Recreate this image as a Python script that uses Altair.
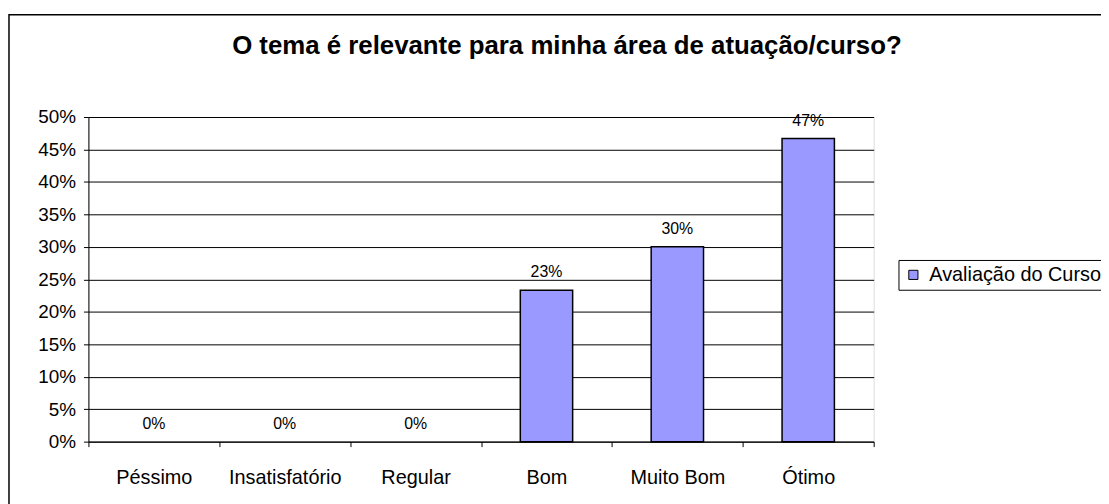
import altair as alt
import pandas as pd

categorias = ["Péssimo", "Insatisfatório", "Regular", "Bom", "Muito Bom", "Ótimo"]
valores = [0.0, 0.0, 0.0, 0.233, 0.30, 0.467]
serie = "Avaliação do Curso"
titulo = "O tema é relevante para minha área de atuação/curso?"
ticks_y = [0, 0.05, 0.10, 0.15, 0.20, 0.25, 0.30, 0.35, 0.40, 0.45, 0.50]

df = pd.DataFrame({"categoria": categorias, "valor": valores, "serie": [serie] * len(categorias)})

FONT = "Liberation Sans"

x = alt.X(
    "categoria:N",
    sort=categorias,
    scale=alt.Scale(paddingInner=0, paddingOuter=0),
    axis=alt.Axis(
        title=None, labelAngle=0, tickBand="extent", domainColor="black",
        tickColor="black", tickSize=5, labelFontSize=20, labelFont=FONT,
        labelColor="black", labelPadding=21, grid=False, domainWidth=1,
    ),
)
y = alt.Y(
    "valor:Q",
    scale=alt.Scale(domain=[0, 0.5]),
    axis=alt.Axis(
        title=None, values=ticks_y, format=".0%", grid=True, gridColor="black",
        gridOpacity=1, gridWidth=1, domainColor="black", tickColor="black",
        tickSize=5, labelFontSize=19, labelFont=FONT, labelColor="black",
        labelPadding=8,
    ),
)

bars = alt.Chart(df).transform_filter("datum.valor > 0").mark_bar(
    width=alt.RelativeBandSize(0.4), stroke="black", strokeWidth=1.5
).encode(
    x=x,
    y=y,
    color=alt.Color(
        "serie:N",
        scale=alt.Scale(range=["#9999FF"]),
        legend=alt.Legend(
            title=None, orient="none", legendX=816, legendY=144,
            strokeColor="black", fillColor="white", padding=5,
            symbolType="square", symbolSize=85, symbolStrokeColor="black",
            symbolStrokeWidth=1, labelFontSize=20, labelFont=FONT,
            labelColor="black", labelOffset=6, labelLimit=0,
        ),
    ),
)

labels = alt.Chart(df).mark_text(
    dy=-18, fontSize=16, font=FONT, color="black", baseline="middle"
).encode(x=x, y=y, text=alt.Text("valor:Q", format=".0%"))

title_mark = alt.Chart(pd.DataFrame({"t": [titulo]})).mark_text(
    fontSize=26, fontWeight="bold", font=FONT, color="black", baseline="middle"
).encode(x=alt.value(482), y=alt.value(-71), text="t:N")

border = alt.Chart(pd.DataFrame({"t": [0]})).mark_rect(
    fill=None, stroke="black", strokeWidth=1.5
).encode(
    x=alt.value(-80), x2=alt.value(1040), y=alt.value(-103), y2=alt.value(420)
)

chart = alt.layer(border, bars, labels, title_mark).properties(
    width=791, height=327,
    autosize=alt.AutoSizeParams(type="none"),
    padding={"left": 81, "top": 108, "right": 229, "bottom": 61},
).configure_view(stroke="#808080", strokeWidth=1.5).configure(background="white")

chart.save("out.html", embed_options={"renderer": "svg", "actions": False})
